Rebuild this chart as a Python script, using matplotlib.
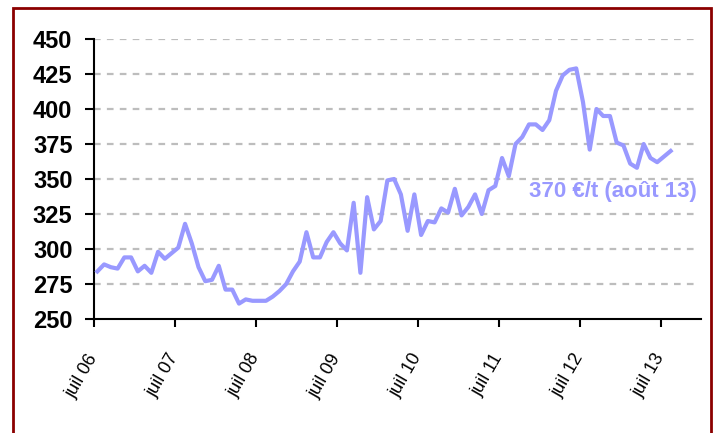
import matplotlib
matplotlib.use("Agg")
import matplotlib.pyplot as plt
from matplotlib.patches import Rectangle

# monthly price, juil 06 .. août 13 (€/t)
prices = [
    284, 289, 287, 286, 294, 294,                                   # 2006 jul-dec
    284, 288, 283, 298, 293, 297, 301, 318, 304, 287, 277, 278,     # 2007
    288, 271, 271, 261, 264, 263, 263, 263, 266, 270, 275, 284,     # 2008
    291, 312, 294, 294, 305, 312, 304, 299, 333, 283, 337, 314,     # 2009
    320, 349, 350, 339, 313, 339, 310, 320, 319, 329, 326, 343,     # 2010
    324, 330, 339, 325, 342, 345, 365, 352, 375, 380, 389, 389,     # 2011
    385, 392, 413, 424, 428, 429, 405, 371, 400, 395, 395, 376,     # 2012
    374, 361, 358, 375, 365, 362, 366, 370,                         # 2013 jan-aug
]
tick_labels = ["juil 06", "juil 07", "juil 08", "juil 09",
               "juil 10", "juil 11", "juil 12", "juil 13"]
y_ticks = [250, 275, 300, 325, 350, 375, 400, 425, 450]
note = "370 €/t (août 13)"

LINE = "#9999FF"
plt.rcParams["font.family"] = ["Liberation Sans", "DejaVu Sans"]

fig = plt.figure(figsize=(7.2, 4.33), dpi=100)
ax = fig.add_axes([94 / 720, 1 - 319 / 433, (701 - 94) / 720, (319 - 39) / 433])

months = [i + 0.5 for i in range(len(prices))]
ax.plot(months, prices, color=LINE, lw=3, solid_joinstyle="round", zorder=3)

ax.set_xlim(0, 90)
ax.set_ylim(250, 450)
ax.set_yticks(y_ticks)
ax.set_yticklabels([str(v) for v in y_ticks], fontsize=17, fontweight="bold")
ax.set_xticks([12 * k for k in range(len(tick_labels))])
ax.set_xticklabels(tick_labels, fontsize=13, rotation=60,
                   ha="right", va="center", rotation_mode="anchor")

# dashed grey gridlines, stopping just short of the right end
for v in y_ticks[1:]:
    ax.plot([0, 89.5], [v, v], color="#BDBDBD", lw=1.6,
            dashes=(3, 2.8), zorder=1)

for side in ("top", "right"):
    ax.spines[side].set_visible(False)
for side in ("left", "bottom"):
    ax.spines[side].set_linewidth(1.5)
ax.tick_params(axis="y", direction="out", length=6.5, width=1.5, pad=9)
ax.tick_params(axis="x", direction="out", length=6, width=1.5, pad=20)

ax.text(0.993, 0.457, note, transform=ax.transAxes, ha="right", va="center",
        fontsize=16, fontweight="bold", color=LINE)

# dark red frame around the chart (bottom edge runs off the image)
fig.patches.append(Rectangle((13 / 720, -0.05), (711 - 13) / 720,
                             1.05 - 8 / 433, transform=fig.transFigure,
                             fill=False, edgecolor="#8B0000", lw=2,
                             clip_on=False))

fig.savefig("out.png", dpi=100)
